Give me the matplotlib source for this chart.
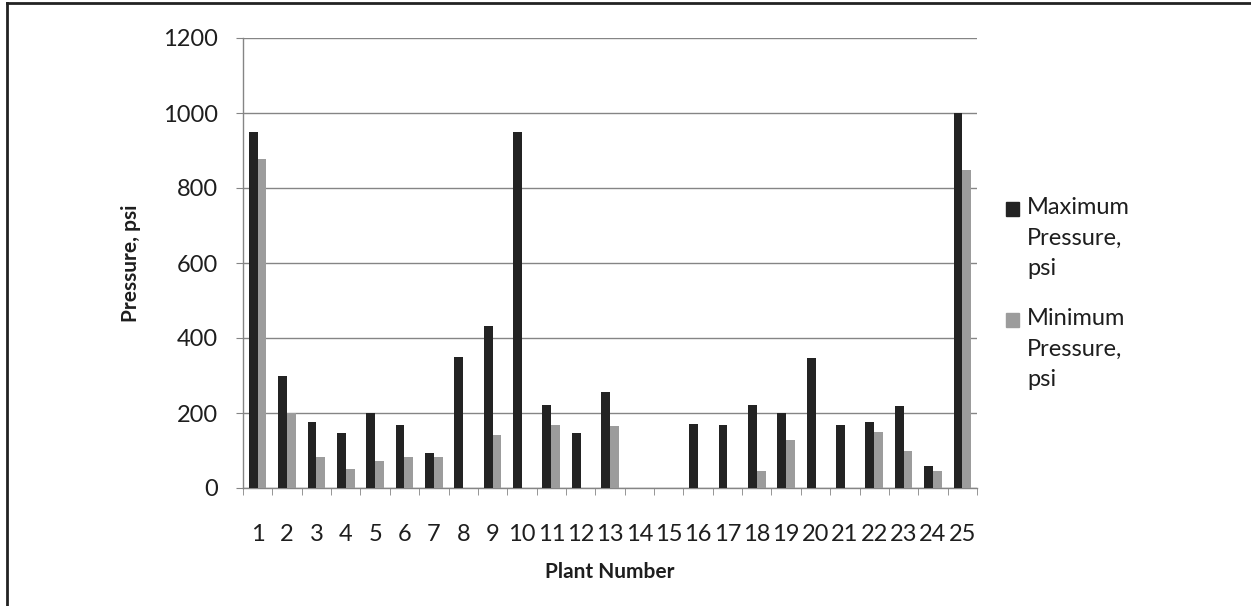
import numpy as np
import matplotlib
matplotlib.use('Agg')
from matplotlib import pyplot as plt
from matplotlib.lines import Line2D
from matplotlib.patches import Rectangle

plants = list(range(1, 26))
max_psi = [950, 298, 177, 148, 200, 168, 93, 349, 433, 950, 221, 148, 256,
           0, 0, 170, 167, 221, 199, 348, 167, 177, 219, 60, 1000]
min_psi = [877, 200, 84, 52, 72, 83, 82, 0, 141, 0, 167, 0, 166,
           0, 0, 0, 0, 46, 128, 0, 0, 149, 98, 46, 848]
series_names = ['Maximum\nPressure,\npsi', 'Minimum\nPressure,\npsi']

plt.rcParams['font.family'] = ['Lato', 'DejaVu Sans']

W, H = 1251, 606
fig = plt.figure(figsize=(W / 100, H / 100), dpi=100)
ax = fig.add_axes([243 / W, 118 / H, (977 - 243) / W, (488 - 38) / H])

dark = '#232323'
light = '#9c9c9c'
grey = '#858585'
txt = '#1e1e1e'

x = np.array(plants)
bw = 0.3
ax.bar(x - bw / 2, max_psi, bw, color=dark, zorder=3)
ax.bar(x + bw / 2, min_psi, bw, color=light, zorder=3)

ax.set_xlim(0.5, 25.5)
ax.set_ylim(0, 1200)
ax.set_yticks(range(0, 1201, 200))
ax.yaxis.grid(True, color=grey, lw=1.0, zorder=0)

for s in ('top', 'right'):
    ax.spines[s].set_visible(False)
for s in ('left', 'bottom'):
    ax.spines[s].set_color(grey)
    ax.spines[s].set_linewidth(1.0)

ax.set_xticks(x)
ax.set_xticklabels([str(p) for p in plants])
ax.set_xticks(np.arange(0.5, 26, 1), minor=True)
ax.tick_params(axis='x', which='major', length=0, pad=26, labelsize=17,
               labelcolor=txt)
ax.tick_params(axis='x', which='minor', length=5, color=grey, direction='out')
ax.tick_params(axis='y', length=5, color=grey, pad=13, labelsize=17,
               labelcolor=txt)

ax.set_xlabel('Plant Number', fontsize=15, fontweight='bold', labelpad=12,
              color=txt)
ax.set_ylabel('Pressure, psi', fontsize=15, fontweight='bold', labelpad=16,
              color=txt)

# legend drawn by hand: square + three-line label per series
for i, (name, col) in enumerate(zip(series_names, [dark, light])):
    top = 202 + i * 111
    fig.add_artist(Rectangle((1006 / W, 1 - (top + 14) / H), 13 / W, 14 / H,
                             transform=fig.transFigure, color=col))
    fig.text(1027 / W, 1 - (top - 5) / H, name, fontsize=17, va='top',
             ha='left', color=txt, linespacing=1.55)

# frame on the left and top edges
fig.add_artist(Line2D([7 / W, 7 / W], [0, 1 - 3 / H], color='#222222', lw=2,
                      transform=fig.transFigure))
fig.add_artist(Line2D([7 / W, 1], [1 - 3 / H, 1 - 3 / H], color='#222222', lw=2,
                      transform=fig.transFigure))

fig.savefig('out.png', dpi=100, facecolor='white')
